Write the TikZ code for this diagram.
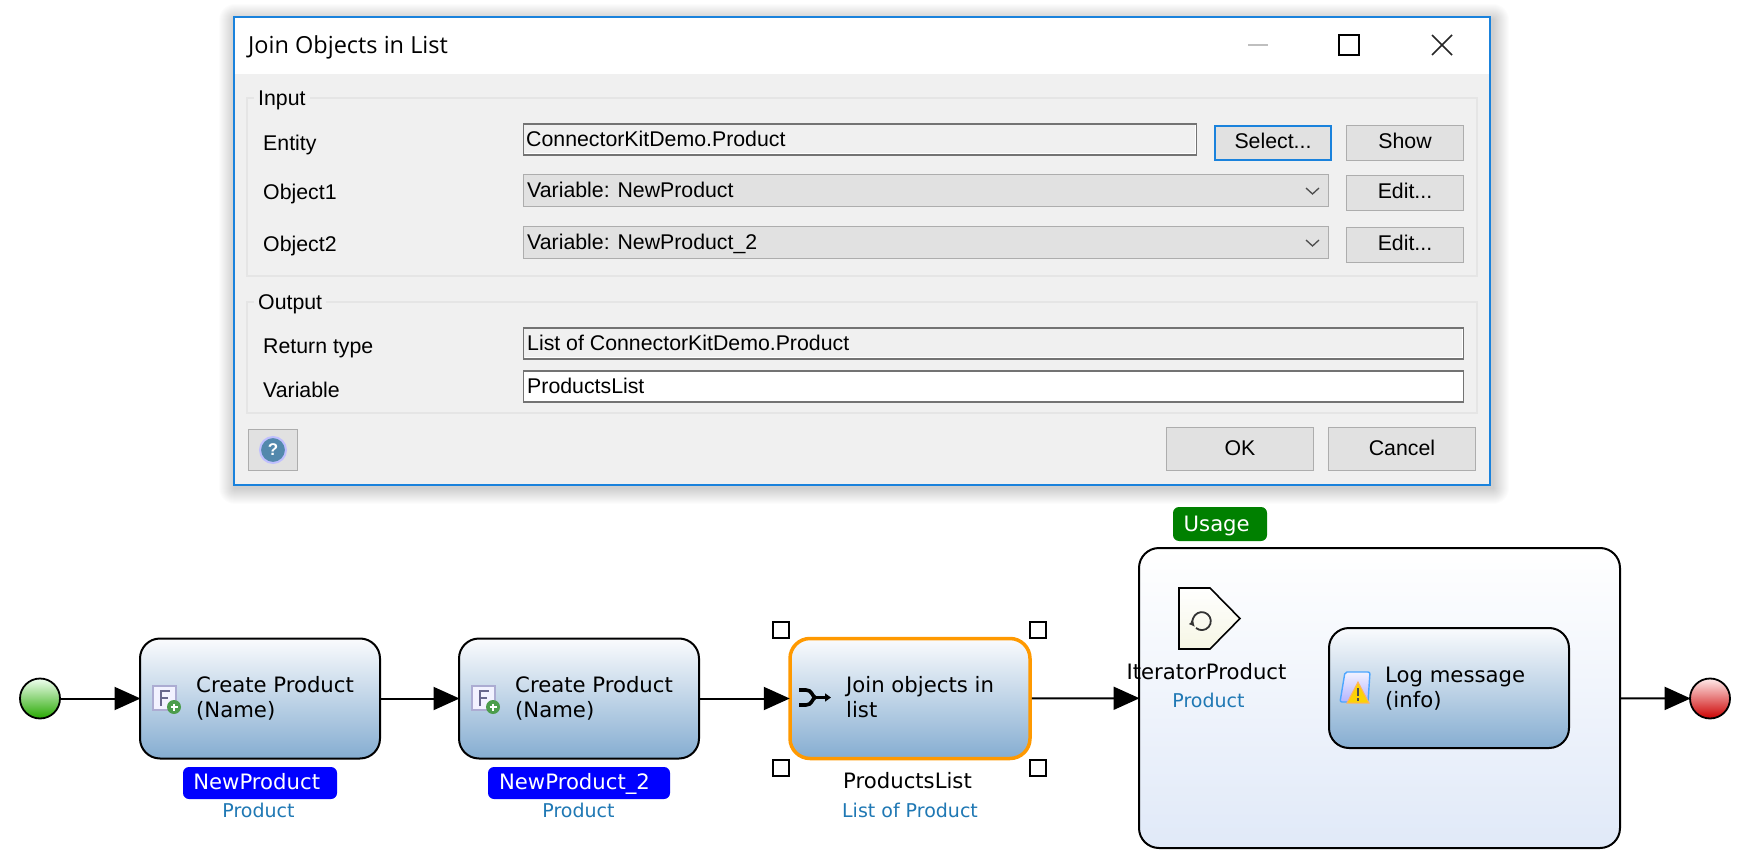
\documentclass[tikz,border=0pt]{standalone}
\usepackage{fontspec}
\setmainfont{Liberation Sans}
\newfontfamily\flowfont{DejaVu Sans}
\newfontfamily\titlefont{Open Sans}
\usepackage{xcolor}
\usepackage{tikz}
\usetikzlibrary{arrows.meta,positioning,shapes.geometric,calc}
\definecolor{dlgblue}{HTML}{1A82DC}
\definecolor{dlgback}{HTML}{F0F0F0}
\definecolor{btnfill}{HTML}{E1E1E1}
\definecolor{btnline}{HTML}{ADADAD}
\definecolor{typeblue}{HTML}{1F78B4}
\definecolor{boxtop}{HTML}{FAFBFD}
\definecolor{boxbottom}{HTML}{85ADD1}
\definecolor{loopbottom}{HTML}{E0E9F8}
\definecolor{iterfill}{HTML}{F6F6E4}
\tikzset{
  dlgtext/.style={anchor=base west,inner sep=0pt,font=\fontsize{21.3}{25}\selectfont},
  btn/.style={draw=btnline,fill=btnfill,line width=1.3pt,inner sep=0pt,text height=15pt,text depth=3pt,font=\fontsize{21.3}{25}\selectfont},
  field/.style={draw=black!55,fill=dlgback,line width=1.3pt,inner sep=0pt,outer sep=0pt,anchor=north west},
  dropbox/.style={draw=btnline,fill=btnfill,line width=1.3pt,inner sep=0pt,outer sep=0pt,anchor=north west},
  groupbox/.style={draw=black!10,line width=1.2pt},
  flowbox/.style={draw=black,line width=2pt,rounded corners=20pt,top color=boxtop,bottom color=boxbottom,
    minimum width=240pt,minimum height=120pt,inner sep=0pt},
  flowtext/.style={anchor=base west,inner sep=0pt,font=\flowfont\fontsize{21.2}{25}\selectfont},
  typetext/.style={anchor=base,inner sep=0pt,text=typeblue,font=\flowfont\fontsize{19}{23}\selectfont},
  tagbox/.style={rounded corners=6pt,inner sep=0pt,text=white,text height=16pt,text depth=4pt,font=\flowfont\fontsize{21.2}{25}\selectfont},
  flowarrow/.style={line width=2pt,shorten >=-1.5pt,-{Triangle[length=26pt,width=23pt]}},
  handle/.style={draw=black,fill=white,line width=1.6pt,minimum size=16pt,inner sep=0pt}
}
% icon of a create activity
\newcommand{\createicon}[1]{
  \begin{scope}[shift={(#1)}]
    \draw[draw=blue!30!gray!50,fill=blue!5,line width=1.5pt] (0,0) rectangle (23,24);
    \draw[black!75!blue!60,line width=2.6pt] (8,20) -- (8,5) -- (17,5) (8,12) -- (15,12);
    \fill[green!45!black!70] (21,21) circle (7);
    \draw[white,line width=1.6pt] (17.5,21) -- (24.5,21) (21,17.5) -- (21,24.5);
  \end{scope}
}
\begin{document}
\begin{tikzpicture}[x=1pt,y=-1pt]
  \useasboundingbox (0,0) rectangle (1740,866);
  \fill[white] (0,0) rectangle (1740,866);

  % Dialog shadow
  \foreach \i in {1,...,16}
    \fill[black,opacity=0.012,rounded corners=\i pt] (235-\i,20-\i) rectangle (1493+\i,488+\i);

  % Dialog window
  \fill[dlgback] (234,18) rectangle (1490,485);
  \fill[white] (234,18) rectangle (1490,74);
  \draw[dlgblue,line width=2.5pt] (234,17) rectangle (1490,485);
  \node[anchor=base west,inner sep=0pt,font=\titlefont\fontsize{23.5}{28}\selectfont] (dlgtitle) at (248,54) {Join Objects in List};

  % Window buttons
  \draw[black!25,line width=1.5pt] (1248,45) -- (1268,45);
  \draw[black,line width=2pt] (1339,35) rectangle (1359,55);
  \draw[black!85,line width=1.5pt] (1432,35) -- (1452,55) (1432,55) -- (1452,35);

  % Input group
  \draw[groupbox] (247,98) rectangle (1477,276);
  \node[dlgtext,fill=dlgback,inner xsep=4pt] (inputlabel) at (254,106) {Input};
  \node[dlgtext] (entitylabel) at (263,151) {Entity};
  \node[dlgtext] (object1label) at (263,200) {Object1};
  \node[dlgtext] (object2label) at (263,252) {Object2};

  \node[field,minimum width=673pt,minimum height=31pt] (entityfield) at (523.5,124) {};
  \draw[white,line width=1pt] (entityfield.south west) ++(1,-1.2) -| ([xshift=-1.2pt,yshift=-1pt]entityfield.north east);
  \node[dlgtext] (entitytext) at (526,147) {ConnectorKitDemo.Product};
  \node[btn,draw=dlgblue,line width=2pt,minimum width=116pt,minimum height=34pt] (selectbtn) at (1273,143) {Select...};
  \node[btn,minimum width=116.5pt,minimum height=34.5pt] (showbtn) at (1405,143) {Show};

  \node[dropbox,minimum width=805pt,minimum height=32pt] (drop1) at (523.5,174.5) {};
  \node[dlgtext] (drop1text) at (527,198) {Variable: NewProduct};
  \node[btn,minimum width=116.5pt,minimum height=34.5pt] (edit1btn) at (1405,193) {Edit...};
  \node[dropbox,minimum width=805pt,minimum height=32pt] (drop2) at (523.5,226.5) {};
  \node[dlgtext] (drop2text) at (527,250) {Variable: NewProduct\_2};
  \node[btn,minimum width=116.5pt,minimum height=34.5pt] (edit2btn) at (1405,245) {Edit...};
  \foreach \y in {188,240}
    \draw[black!70,line width=1.3pt] (1306,\y) -- (1312.5,\y+6) -- (1319,\y);

  % Output group
  \draw[groupbox] (247,302) rectangle (1477,413);
  \node[dlgtext,fill=dlgback,inner xsep=4pt] (outputlabel) at (254,310) {Output};
  \node[dlgtext] (returnlabel) at (263,354) {Return type};
  \node[dlgtext] (varlabel) at (263,397) {Variable};
  \node[field,minimum width=940pt,minimum height=31pt] (returnfield) at (523.5,328) {};
  \draw[white,line width=1pt] (returnfield.south west) ++(1,-1.2) -| ([xshift=-1.2pt,yshift=-1pt]returnfield.north east);
  \node[dlgtext] (returntext) at (527,351) {List of ConnectorKitDemo.Product};
  \node[field,fill=white,minimum width=940pt,minimum height=31pt] (varfield) at (523.5,371) {};
  \node[dlgtext] (vartext) at (527,394) {ProductsList};

  % Bottom buttons
  \node[btn,text height=,text depth=,minimum width=48.5pt,minimum height=41pt] (helpbtn) at (273,450) {};
  \node[circle,draw=blue!25!white,fill=blue!40!cyan!35!gray,line width=2pt,minimum size=26pt,inner sep=0pt,text=white,
    font=\bfseries\fontsize{17}{20}\selectfont] (helpicon) at (helpbtn) {?};
  \node[btn,minimum width=146.5pt,minimum height=43pt] (okbtn) at (1240,449) {OK};
  \node[btn,minimum width=146.5pt,minimum height=43pt] (cancelbtn) at (1402,449) {Cancel};

  % Flow nodes
  \node[circle,draw=black,line width=1.8pt,minimum size=40pt,inner sep=0pt,top color=green!6!white,bottom color=green!60!black!85!yellow] (start) at (40,698.5) {};
  \node[flowbox] (create1) at (260,698.5) {};
  \node[flowbox] (create2) at (579,698.5) {};
  \node[flowbox,draw=orange!80!yellow,line width=3.5pt] (join) at (910,698.5) {};
  \node[flowbox,top color=white,bottom color=loopbottom,minimum width=481pt,minimum height=300pt] (loop) at (1379.5,698) {};
  \node[flowbox] (logmsg) at (1449,688) {};
  \node[circle,draw=black,line width=1.8pt,minimum size=40pt,inner sep=0pt,top color=red!8!white,bottom color=red!80!black] (end) at (1710,698.5) {};

  % Flow text
  \node[flowtext] (create1a) at (196,692) {Create Product};
  \node[flowtext] (create1b) at (196,717) {(Name)};
  \node[flowtext] (create2a) at (515,692) {Create Product};
  \node[flowtext] (create2b) at (515,717) {(Name)};
  \node[flowtext] (joina) at (846,692) {Join objects in};
  \node[flowtext] (joinb) at (846,717) {list};
  \node[flowtext] (loga) at (1385,682) {Log message};
  \node[flowtext] (logb) at (1385,707) {(info)};

  % Variable tags
  \node[tagbox,fill=blue,minimum width=154pt,minimum height=32pt] (tag1) at (260,783) {NewProduct\kern6.6pt};
  \node[typetext] (type1) at (258.5,817) {Product};
  \node[tagbox,fill=blue,minimum width=182pt,minimum height=32pt] (tag2) at (579,783) {NewProduct\_2\kern9pt};
  \node[typetext] (type2) at (578.5,817) {Product};
  \node[flowtext,anchor=base] (prodlist) at (907.5,788) {ProductsList};
  \node[typetext] (type3) at (910,817) {List of Product};
  \node[tagbox,fill=green!50!black,text height=18pt,minimum width=94pt,minimum height=34pt] (usage) at (1220,524) {Usage\kern6.6pt};

  % Iterator
  \draw[black,line width=1.6pt,top color=white,bottom color=iterfill] (1179,588) -- (1210,588) -- (1240,618.5) -- (1210,649) -- (1179,649) -- cycle;
  \draw[black!80,line width=1.8pt,-{Latex[length=6pt,width=6pt]}] (1196,628) arc[start angle=130,end angle=-220,radius=9];
  \node[flowtext,anchor=base] (iterlabel) at (1206.5,679) {IteratorProduct};
  \node[typetext] (type4) at (1208.5,707) {Product};

  % Selection handles
  \node[handle,xshift=-7.5pt,yshift=7pt] (hnw) at (join.north west) {};
  \node[handle,xshift=6.5pt,yshift=7pt] (hne) at (join.north east) {};
  \node[handle,xshift=-7.5pt,yshift=-7.5pt] (hsw) at (join.south west) {};
  \node[handle,xshift=6.5pt,yshift=-7.5pt] (hse) at (join.south east) {};

  % Icons
  \createicon{153,686}
  \createicon{472,686}
  \draw[black,line width=3.6pt] (799,690) -- (806,690) .. controls (812,690) and (812,696) .. (815,697.5)
    .. controls (812,699) and (812,705) .. (806,705) -- (799,705);
  \draw[black,line width=2.4pt,-{Triangle[length=6pt,width=8pt]}] (815,697.5) -- (831,697.5);
  \draw[blue!50!cyan!70,top color=blue!5,bottom color=blue!30,line width=1.4pt,rounded corners=2pt] (1345,672) -- (1370,672) -- (1368,702) -- (1340,702) -- cycle;
  \fill[yellow!70!orange,draw=orange!60,line width=1pt] (1358,682) -- (1369,703) -- (1347,703) -- cycle;
  \draw[black!70,line width=1.6pt] (1358,688) -- (1358,696) (1358,698) -- (1358,700.5);

  % Connectors
  \draw[flowarrow] (start) -- (create1);
  \draw[flowarrow] (create1) -- (create2);
  \draw[flowarrow] (create2) -- (join);
  \draw[flowarrow] (join) -- (loop);
  \draw[flowarrow] (loop) -- (end);
\end{tikzpicture}
\end{document}
